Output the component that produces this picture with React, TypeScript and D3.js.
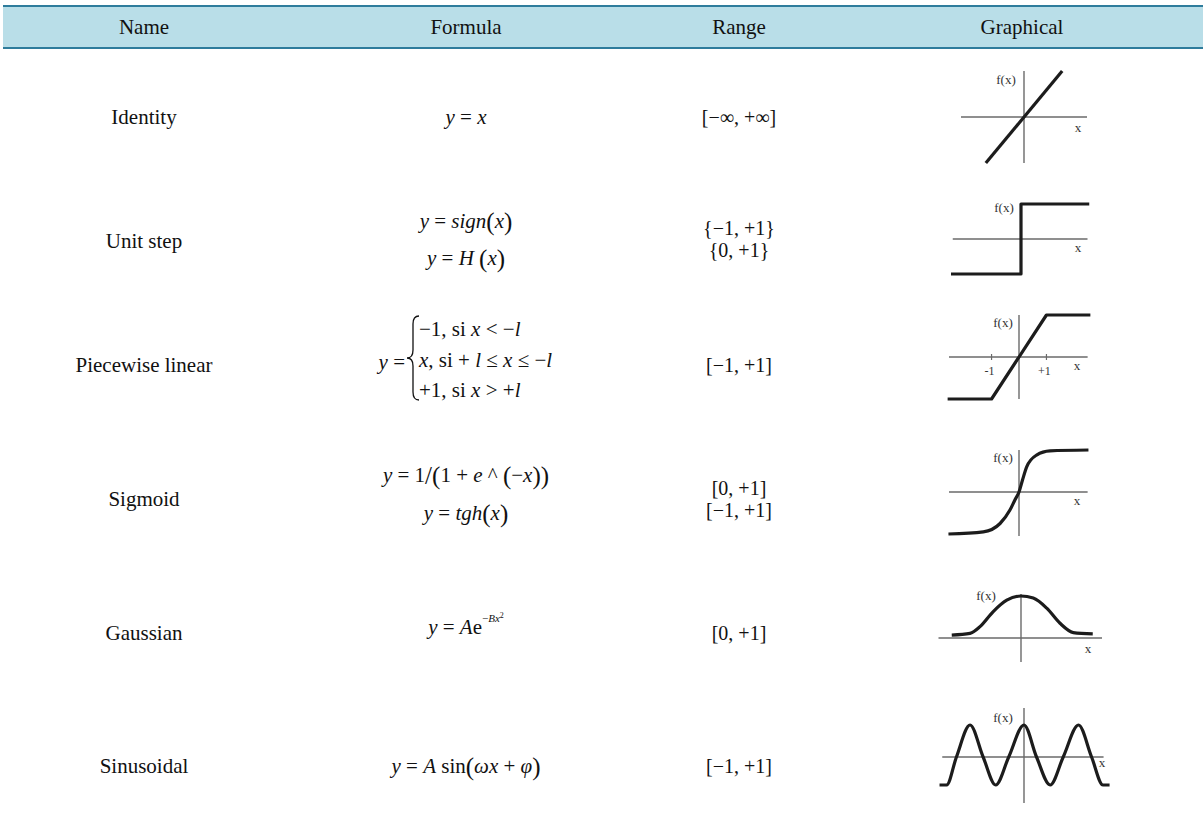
import React from 'react';
import * as d3 from 'd3';

const columns = ['Name', 'Formula', 'Range', 'Graphical'];
const names = ['Identity', 'Unit step', 'Piecewise linear', 'Sigmoid', 'Gaussian', 'Sinusoidal'];
const ranges = [
  ['[−∞, +∞]'],
  ['{−1, +1}', '{0, +1}'],
  ['[−1, +1]'],
  ['[0, +1]', '[−1, +1]'],
  ['[0, +1]'],
  ['[−1, +1]'],
];

const identityPts: [number, number][] = [[-1, -1], [1, 1]];
const stepPts: [number, number][] = [[-2, -1], [0, -1], [0, 1], [1.95, 1]];
const piecewisePts: [number, number][] = [[-2.6, -1], [-1, -1], [1, 1], [2.6, 1]];
const piecewiseTicks = [-1, 1];
const sigmoidPts: [number, number][] = [
  [-2.57, -1], [-1.3, -0.95], [-0.69, -0.75], [-0.33, -0.43], [-0.15, -0.19], [0, 0],
  [0.13, 0.29], [0.28, 0.6], [0.64, 0.88], [1.13, 0.98], [2.53, 1],
];
const gaussianPts: [number, number][] = [
  [-2.77, 0.07], [-2.04, 0.11], [-1.64, 0.27], [-1.11, 0.63], [-0.57, 0.9], [0, 1],
  [0.49, 0.95], [1.03, 0.71], [1.56, 0.35], [2.09, 0.13], [2.87, 0.1],
];
const sinePts: [number, number][] = [
  [-1.55, -0.875], [-1.42, -0.875], [-1.24, 0], [-0.99, 1], [-0.75, 0], [-0.52, -0.875],
  [-0.28, 0], [0, 1], [0.23, 0], [0.48, -0.875], [0.72, 0], [1, 1], [1.24, 0],
  [1.45, -0.875], [1.57, -0.875],
];

const W = 1203;
const H = 818;
const colX = [144, 466, 739, 1022];
const rowY = [117, 241, 365, 499, 633, 766];
const serif = "'Liberation Serif', 'Times New Roman', serif";

const graphs = [
  { pts: identityPts, curve: d3.curveLinear, xDom: [-1.65, 1.65], xRng: [961, 1087], yDom: [-1, 1], yRng: [163, 71],
    hAxis: [-1.65, 1.65], vAxis: [-1, 1], fx: [1006, 79], xl: [1078, 127] },
  { pts: stepPts, curve: d3.curveLinear, xDom: [-2, 2], xRng: [951, 1091], yDom: [-1, 1], yRng: [274, 204],
    hAxis: [-1.95, 1.9], vAxis: null, fx: [1004, 207], xl: [1078, 247] },
  { pts: piecewisePts, curve: d3.curveLinear, xDom: [-2.55, 2.55], xRng: [949, 1089], yDom: [-1, 1], yRng: [399, 315],
    hAxis: [-2.55, 2.5], vAxis: [-1, 1], fx: [1003, 322], xl: [1077, 365], ticks: piecewiseTicks },
  { pts: sigmoidPts, curve: d3.curveMonotoneX, xDom: [-2.55, 2.55], xRng: [949, 1089], yDom: [-1, 1], yRng: [534, 450],
    hAxis: [-2.55, 2.5], vAxis: [-1.05, 1], fx: [1003, 457], xl: [1077, 500] },
  { pts: gaussianPts, curve: d3.curveMonotoneX, xDom: [-3.3, 3.3], xRng: [938.5, 1103.5], yDom: [0, 1], yRng: [638, 596],
    hAxis: [-3.3, 3.24], vAxis: [-0.57, 1.05], fx: [986, 595], xl: [1088, 648] },
  { pts: sinePts, curve: d3.curveMonotoneX, xDom: [-1.6, 1.6], xRng: [936.8, 1111.2], yDom: [-1, 1], yRng: [789, 725],
    hAxis: [-1.5, 1.46], vAxis: [-1.44, 1.53], fx: [1003, 717], xl: [1102, 762] },
];

function Sketch({ g }: { g: any }) {
  const x = d3.scaleLinear().domain(g.xDom).range(g.xRng);
  const y = d3.scaleLinear().domain(g.yDom).range(g.yRng);
  const line = d3.line<[number, number]>().x(d => x(d[0])).y(d => y(d[1])).curve(g.curve);
  const axis = '#6a6a6a';
  return (
    <g>
      <line x1={x(g.hAxis[0])} x2={x(g.hAxis[1])} y1={y(0)} y2={y(0)} stroke={axis} strokeWidth={1.4} />
      {g.vAxis && <line x1={x(0)} x2={x(0)} y1={y(g.vAxis[0])} y2={y(g.vAxis[1])} stroke={axis} strokeWidth={1.4} />}
      {(g.ticks || []).map((t: number) => (
        <g key={t}>
          <line x1={x(t)} x2={x(t)} y1={y(0) - 3} y2={y(0) + 3} stroke={axis} strokeWidth={1.2} />
          <text x={x(t) - 2} y={y(0) + 14} fontSize={12} textAnchor="middle" dominantBaseline="central" fill="#333">
            {t < 0 ? '-1' : '+1'}
          </text>
        </g>
      ))}
      <path d={line(g.pts) || ''} fill="none" stroke="#1c1c1c" strokeWidth={3.2} strokeLinejoin="round" />
      <text x={g.fx[0]} y={g.fx[1]} fontSize={13} textAnchor="middle" dominantBaseline="central" fill="#333">f(x)</text>
      <text x={g.xl[0]} y={g.xl[1]} fontSize={13} textAnchor="middle" dominantBaseline="central" fill="#333">x</text>
    </g>
  );
}

const I = ({ children }: { children: any }) => <tspan fontStyle="italic">{children}</tspan>;
const P = ({ children }: { children: any }) => <tspan fontSize={25}>{children}</tspan>;

function Formulas() {
  const cx = colX[1];
  const common = { textAnchor: 'middle' as const, dominantBaseline: 'central' as const, fontSize: 21 };
  return (
    <g fill="#111" style={{ whiteSpace: 'pre' }}>
      <text x={cx} y={rowY[0]} {...common}><I>y</I> = <I>x</I></text>

      <text x={cx} y={221} {...common}><I>y</I> = <I>sign</I><P>(</P><I>x</I><P>)</P></text>
      <text x={cx} y={258} {...common}><I>y</I> = <I>H</I> <P>(</P><I>x</I><P>)</P></text>

      <text x={405} y={362} fontSize={21} textAnchor="end" dominantBaseline="central"><I>y</I> =</text>
      <path d="M419 316 Q413 316 413 324 L413 350 Q413 358 407 358 Q413 358 413 366 L413 392 Q413 400 419 400"
        fill="none" stroke="#111" strokeWidth={1.3} />
      <text x={419} y={329} fontSize={21} dominantBaseline="central">−1, si  <I>x</I> &lt; −<I>l</I></text>
      <text x={419} y={360} fontSize={21} dominantBaseline="central"><I>x</I>,  si + <I>l</I> ≤ <I>x</I> ≤ −<I>l</I></text>
      <text x={419} y={390} fontSize={21} dominantBaseline="central">+1, si  <I>x</I> &gt; +<I>l</I></text>

      <text x={cx} y={475} {...common}><I>y</I> = 1<P>/</P><P>(</P>1 + <I>e</I> ^ <P>(</P>−<I>x</I><P>))</P></text>
      <text x={cx} y={513} {...common}><I>y</I> = <I>tgh</I><P>(</P><I>x</I><P>)</P></text>

      <text x={cx} y={627} {...common}>
        <I>y</I> = <I>A</I>e<tspan fontSize={11} dy={-9}>−<I>Bx</I></tspan><tspan fontSize={8} dy={-3}>2</tspan>
      </text>

      <text x={cx} y={rowY[5]} {...common}><I>y</I> = <I>A</I> sin<P>(</P><I>ωx</I> + <I>φ</I><P>)</P></text>
    </g>
  );
}

export default function App() {
  return (
    <div style={{ position: 'absolute', left: 0, top: 0 }}>
      <svg width={W} height={H} style={{ display: 'block', background: '#fff', fontFamily: serif }}>
        <rect x={3} y={6} width={W - 3} height={42} fill="#b9dee8" />
        <line x1={3} x2={W} y1={6} y2={6} stroke="#2e7c9c" strokeWidth={2} />
        <line x1={3} x2={W} y1={48} y2={48} stroke="#2e7c9c" strokeWidth={2} />
        {columns.map((c, i) => (
          <text key={c} x={colX[i]} y={27} fontSize={21} textAnchor="middle" dominantBaseline="central" fill="#111">{c}</text>
        ))}
        {names.map((n, i) => (
          <text key={n} x={colX[0]} y={rowY[i]} fontSize={21} textAnchor="middle" dominantBaseline="central" fill="#111">{n}</text>
        ))}
        {ranges.map((r, i) => r.map((s, j) => (
          <text key={i + '-' + j} x={colX[2]} y={rowY[i] + (j - (r.length - 1) / 2) * 22 + (i === 1 ? -2 : 0)}
            fontSize={20} textAnchor="middle" dominantBaseline="central" fill="#111">{s}</text>
        )))}
        <Formulas />
        {graphs.map((g, i) => <Sketch key={i} g={g} />)}
      </svg>
    </div>
  );
}
